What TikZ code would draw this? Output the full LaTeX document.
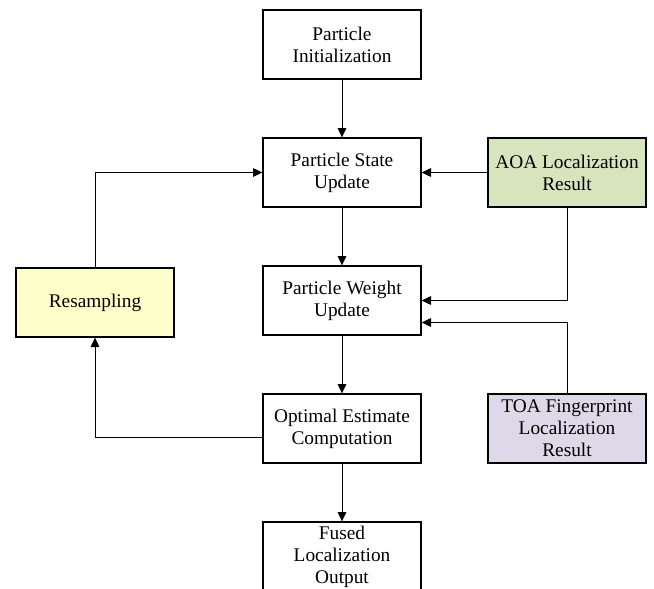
\documentclass[tikz,border=0pt]{standalone}
\usepackage{fontspec}
\setmainfont{Liberation Serif}
\usepackage{tikz}
\usetikzlibrary{arrows.meta}
\tikzset{every picture/.style={line width=0.75pt}}
\definecolor{resampfill}{RGB}{255,255,204}
\definecolor{aoafill}{RGB}{215,228,189}
\definecolor{toafill}{RGB}{222,216,232}

\begin{document}
\begin{tikzpicture}[x=0.75pt,y=0.75pt,yscale=-1,xscale=1,
  stepbox/.style={draw=black,line width=1pt,minimum width=118.5pt,minimum height=51.75pt,inner sep=0pt,align=center,font=\fontsize{14.5pt}{16.5pt}\selectfont},
  link/.style={draw=black,line width=0.75pt,-{Triangle[length=7pt,width=6.5pt]}}]
\useasboundingbox (0,0) rectangle (654,589);

% Text Node
\node [stepbox] (init) at (342,44.5) {Particle\\Initialization};
% Text Node
\node [stepbox] (state) at (342,172.5) {Particle State\\Update};
% Text Node
\node [stepbox,fill=aoafill] (aoa) at (567,172.5) {AOA Localization\\Result};
% Text Node
\node [stepbox,fill=resampfill] (resamp) at (95,302.5) {Resampling};
% Text Node
\node [stepbox] (weight) at (342,300.5) {Particle Weight\\Update};
% Text Node
\node [stepbox] (optimal) at (342,428.5) {Optimal Estimate\\Computation};
% Text Node
\node [stepbox,fill=toafill] (toa) at (567,428.5) {TOA Fingerprint\\Localization\\Result};
% Text Node
\node [stepbox] (fused) at (342,556.5) {Fused\\Localization\\Output};

%Straight Lines
\draw [link] (init) -- (state);
\draw [link] (state) -- (weight);
\draw [link] (weight) -- (optimal);
\draw [link] (optimal) -- (fused);
\draw [link] (aoa) -- (state);
%Elbow Lines
\draw [link] (aoa.south) |- (weight.east);
\draw [link] (toa.north) |- ([yshift=16.5pt]weight.east);
\draw [link] (resamp.north) |- (state.west);
\draw [link] ([yshift=7pt]optimal.west) -| (resamp.south);
\end{tikzpicture}
\end{document}
